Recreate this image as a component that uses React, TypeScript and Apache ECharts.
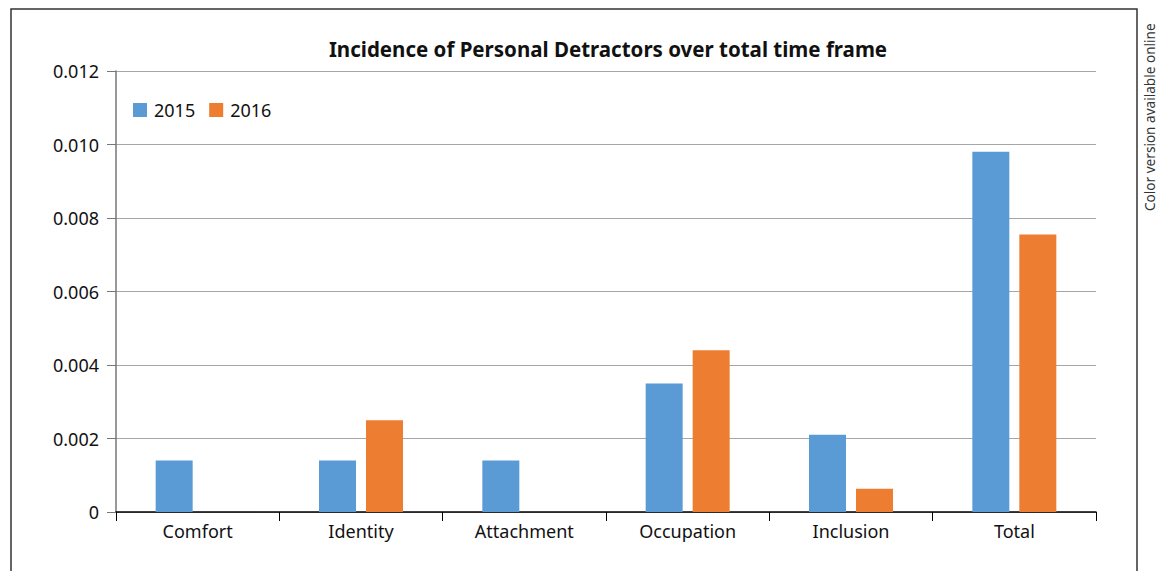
import React, { useEffect, useRef } from "react";
import * as echarts from "echarts";

const categories = ["Comfort", "Identity", "Attachment", "Occupation", "Inclusion", "Total"];
const values2015 = [0.0014, 0.0014, 0.0014, 0.0035, 0.0021, 0.0098];
const values2016 = [0, 0.0025, 0, 0.0044, 0.00063, 0.00755];
const seriesNames = ["2015", "2016"];
const yTickLabels = ["0", "0.002", "0.004", "0.006", "0.008", "0.010", "0.012"];

const FONT = "'Noto Sans', 'Open Sans', sans-serif";

export default function App() {
  const ref = useRef<HTMLDivElement>(null);
  useEffect(() => {
    document.body.style.margin = "0";
    const chart = echarts.init(ref.current!, null, { renderer: "svg" });
    chart.setOption({
      animation: false,
      backgroundColor: "#ffffff",
      textStyle: { fontFamily: FONT },
      title: {
        text: "Incidence of Personal Detractors over total time frame",
        left: 603,
        textAlign: "center",
        top: 33,
        textStyle: { fontFamily: FONT, fontSize: 20.5, fontWeight: "bold", color: "#111" },
      },
      legend: {
        left: 128,
        top: 96,
        itemWidth: 14,
        itemHeight: 14,
        itemGap: 14,
        icon: "rect",
        textStyle: { fontFamily: FONT, fontSize: 18, color: "#111", padding: [0, 0, 0, 2] },
        data: seriesNames,
      },
      grid: { left: 116, right: 70, top: 71, bottom: 59 },
      xAxis: {
        type: "category",
        data: categories,
        axisLine: { lineStyle: { color: "#000", width: 1.5 } },
        axisTick: { show: true, length: 9, lineStyle: { color: "#000" } },
        axisLabel: { fontFamily: FONT, fontSize: 18, color: "#111", margin: 10 },
      },
      yAxis: {
        type: "value",
        min: 0,
        max: 0.012,
        interval: 0.002,
        axisLine: { show: true, lineStyle: { color: "#777", width: 1.5 } },
        axisTick: { show: true, length: 9, lineStyle: { color: "#777" } },
        splitLine: { lineStyle: { color: "#a6a6a6", width: 1.2 } },
        axisLabel: {
          fontFamily: FONT,
          fontSize: 18,
          color: "#111",
          margin: 17,
          formatter: (v: number) => yTickLabels[Math.round(v / 0.002)] ?? String(v),
        },
      },
      series: [
        {
          name: seriesNames[0],
          type: "bar",
          data: values2015,
          barWidth: 37,
          barGap: "27%",
          itemStyle: { color: "#5b9bd5" },
        },
        {
          name: seriesNames[1],
          type: "bar",
          data: values2016,
          barWidth: 37,
          barGap: "27%",
          itemStyle: { color: "#ed7d31" },
        },
      ],
      graphic: [
        {
          type: "polyline",
          shape: { points: [[11, 575], [11, 9], [1137, 9], [1137, 575]] },
          style: { stroke: "#333", lineWidth: 1.5, fill: "none" },
          silent: true,
        },
        {
          type: "text",
          x: 1142,
          y: 211,
          rotation: Math.PI / 2,
          style: {
            text: "Color version available online",
            fontFamily: FONT,
            fontSize: 13.6,
            fill: "#333",
            textAlign: "left",
            textVerticalAlign: "top",
          },
        },
      ],
    });
    return () => chart.dispose();
  }, []);
  return <div ref={ref} style={{ width: 1166, height: 571 }} />;
}
